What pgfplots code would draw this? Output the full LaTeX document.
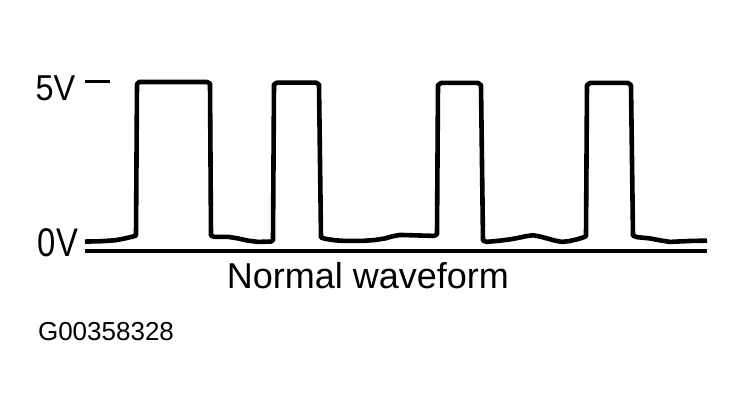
\documentclass[border=0pt]{standalone}
\usepackage{fontspec}
\setmainfont{Liberation Sans}
\usepackage{pgfplots}
\pgfplotsset{compat=1.18}

% waveform: x = time (arbitrary units), y = volts
\pgfplotstableread{
t v
85 -0.05
100 -0.04
115 -0.01
125 0.05
133 0.11
136 0.14
137 4.93
139 5.00
207 5.00
210 4.95
211 0.14
214 0.10
228 0.10
238 0.05
248 -0.02
258 -0.06
271 -0.05
273 0.00
274 4.92
277 4.98
316 4.98
319 4.92
321 0.08
325 0.04
335 -0.01
345 -0.03
362 -0.03
375 0.00
385 0.05
393 0.12
400 0.16
434 0.13
437 0.18
438 4.90
441 4.97
478 4.97
481 4.90
483 -0.02
487 -0.06
500 -0.02
510 0.02
517 0.06
526 0.12
533 0.15
540 0.11
547 0.05
555 -0.02
562 -0.06
570 -0.03
577 0.02
583 0.08
586 0.12
587 4.90
590 4.97
628 4.97
631 4.90
633 0.14
637 0.09
650 0.05
660 -0.01
670 -0.06
690 -0.03
707 -0.02
}\wave

\begin{document}
\begin{tikzpicture}
\begin{axis}[
    scale only axis,
    width=372.5pt, height=207.5pt,
    xmin=0, xmax=745,
    ymin=-5.538, ymax=7.595,
    hide axis,
    clip=false,
]
\path (rel axis cs:0,0) rectangle (rel axis cs:1,1);
\addplot[black, line width=2.3pt, line join=round] table[x=t, y=v] {\wave};
% base line and 5 V marker
\addplot[black, line width=1.6pt] coordinates {(85,-0.35) (707,-0.35)};
\addplot[black, line width=1.5pt] coordinates {(85,5.0) (110,5.0)};
\node[xscale=0.9, font=\fontsize{18}{20}\selectfont] at (axis cs:55.5,4.79) {5V};
\node[xscale=0.82, font=\fontsize{20}{22}\selectfont] at (axis cs:58,-0.10) {0V};
\node[font=\fontsize{18}{20}\selectfont] at (axis cs:368,-1.12) {Normal waveform};
\node[font=\fontsize{13}{15}\selectfont] at (axis cs:106,-2.91) {G00358328};
\end{axis}
\end{tikzpicture}
\end{document}
